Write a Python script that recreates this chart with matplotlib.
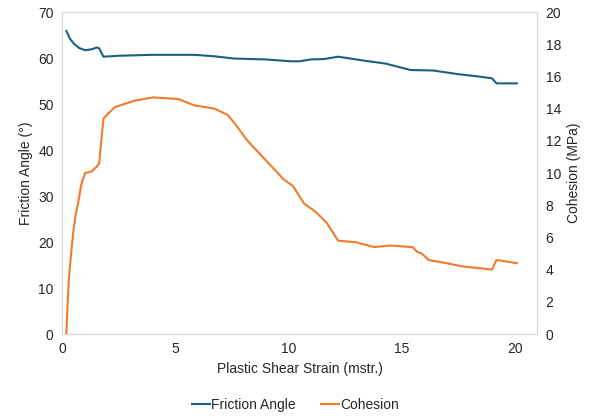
import matplotlib.pyplot as plt

plt.rcParams["font.family"] = ["Liberation Sans", "DejaVu Sans"]

# friction angle (deg) vs plastic shear strain (mstr.)
fa_strain = [0.19, 0.35, 0.51, 0.75, 1.02, 1.3, 1.54, 1.64, 1.83, 2.5, 3.96,
             5.86, 6.7, 7.6, 9.0, 10.1, 10.5, 11.0, 11.6, 12.2, 12.6, 13.4,
             14.3, 15.4, 16.4, 17.5, 18.4, 19.0, 19.2, 20.1]
fa_value = [65.9, 64.2, 63.2, 62.2, 61.7, 61.9, 62.3, 62.1, 60.3, 60.5, 60.7,
            60.7, 60.4, 59.9, 59.7, 59.3, 59.3, 59.7, 59.8, 60.3, 60.0, 59.4,
            58.8, 57.4, 57.3, 56.5, 56.0, 55.6, 54.5, 54.5]

# cohesion (MPa)
co_strain = [0.19, 0.25, 0.3, 0.4, 0.5, 0.6, 0.73, 0.85, 1.02, 1.3, 1.54,
             1.64, 1.83, 2.34, 3.22, 4.03, 5.13, 5.86, 6.74, 7.33, 7.62, 8.2,
             9.0, 9.8, 10.2, 10.7, 11.2, 11.7, 12.2, 13.0, 13.8, 14.5, 15.5,
             15.7, 15.9, 16.2, 17.0, 17.7, 18.4, 19.0, 19.2, 20.1]
co_value = [0.0, 2.0, 3.4, 5.0, 6.4, 7.4, 8.3, 9.3, 10.0, 10.1, 10.4,
            10.6, 13.4, 14.1, 14.5, 14.7, 14.6, 14.2, 14.0, 13.6, 13.1, 12.0,
            10.8, 9.6, 9.2, 8.1, 7.6, 6.9, 5.8, 5.7, 5.4, 5.5, 5.4,
            5.1, 5.0, 4.6, 4.4, 4.2, 4.1, 4.0, 4.6, 4.4]

blue = "#1d5f7e"
orange = "#f07b2c"
grey = "#d9d9d9"
txt = "#262626"

fig, ax = plt.subplots(figsize=(5.91, 4.16), dpi=100)
fig.subplots_adjust(left=0.105, right=0.909, bottom=0.197, top=0.971)
ax2 = ax.twinx()

l1, = ax.plot(fa_strain, fa_value, color=blue, lw=1.5, label="Friction Angle")
l2, = ax2.plot(co_strain, co_value, color=orange, lw=1.5, label="Cohesion")

ax.set_xlim(0, 21)
ax.set_ylim(0, 70)
ax2.set_ylim(0, 20)
ax.set_xticks([0, 5, 10, 15, 20])
ax.set_yticks(range(0, 71, 10))
ax2.set_yticks(range(0, 21, 2))

for a in (ax, ax2):
    for s in a.spines.values():
        s.set_color(grey)
    a.tick_params(length=0, labelsize=10, colors=txt, pad=6)

ax.set_xlabel("Plastic Shear Strain (mstr.)", fontsize=10, color=txt)
ax.set_ylabel("Friction Angle (°)", fontsize=10, color=txt)
ax2.set_ylabel("Cohesion (MPa)", fontsize=10, color=txt)

fig.legend(handles=[l1, l2], loc="lower center", ncol=2, frameon=False,
           fontsize=10, bbox_to_anchor=(0.5, -0.02), handlelength=1.3,
           handletextpad=0.1, columnspacing=1.8, labelcolor=txt)

fig.savefig("out.png", dpi=100)
